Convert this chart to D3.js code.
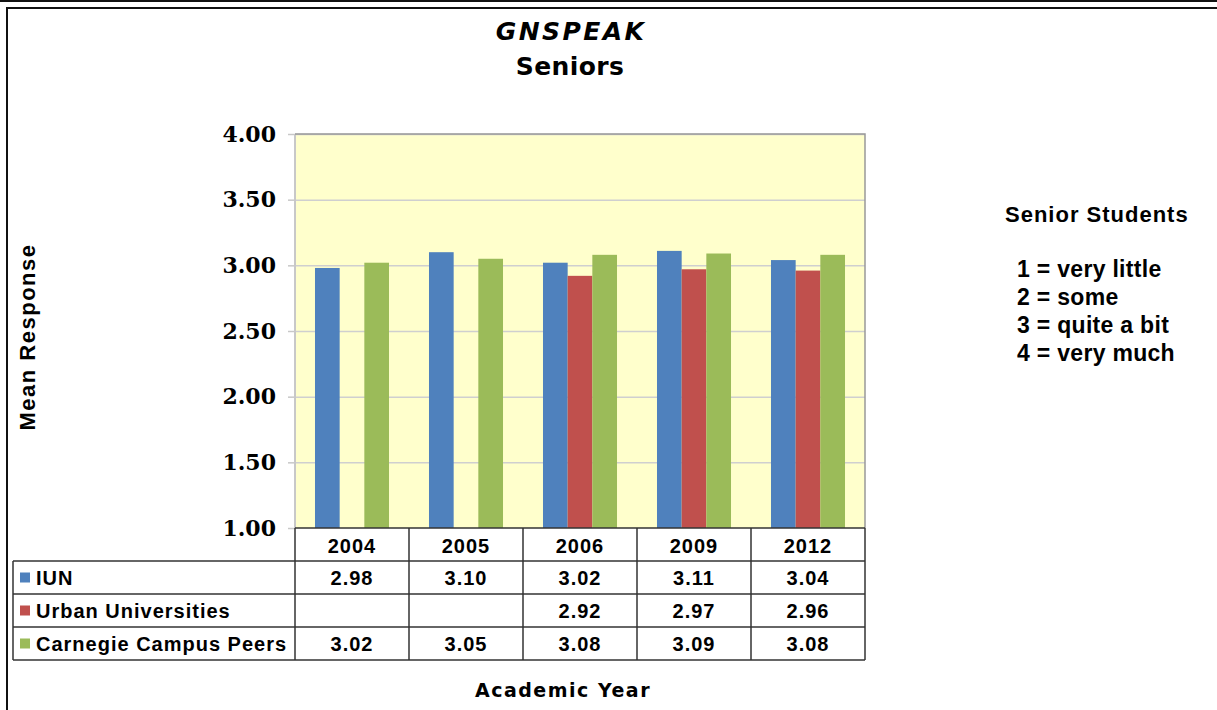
<!DOCTYPE html>
<html>
<head>
<meta charset="utf-8">
<script src="https://cdn.jsdelivr.net/npm/d3@7"></script>
<style>
  body { margin: 0; background: #fff; }
  svg { display: block; }
  .tbl text { font-family: "Liberation Sans", Arial, sans-serif; font-weight: bold; font-size: 20px; letter-spacing: 1px; fill: #000; }
</style>
</head>
<body>
<svg id="chart" width="1217" height="710"></svg>
<script>
// Chart data
const years = ["2004", "2005", "2006", "2009", "2012"];
const seriesNames = ["IUN", "Urban Universities", "Carnegie Campus Peers"];
const iun = [2.98, 3.10, 3.02, 3.11, 3.04];
const urban = [null, null, 2.92, 2.97, 2.96];
const carnegie = [3.02, 3.05, 3.08, 3.09, 3.08];
const yTicks = [1.00, 1.50, 2.00, 2.50, 3.00, 3.50, 4.00];
const scaleNotes = ["1 = very little", "2 = some", "3 = quite a bit", "4 = very much"];

const colors = ["#4F81BD", "#C0504D", "#9BBB59"];
const values = [iun, urban, carnegie];

// Layout
const plot = { left: 295, right: 865, top: 134, bottom: 528 };
const rowH = 33;
const tableLeft = 13;

const svg = d3.select("#chart");

// Outer frame
svg.append("line").attr("x1", 0).attr("x2", 1217).attr("y1", 1).attr("y2", 1)
  .attr("stroke", "#111").attr("stroke-width", 2);
svg.append("line").attr("x1", 6).attr("x2", 1217).attr("y1", 8).attr("y2", 8)
  .attr("stroke", "#111").attr("stroke-width", 2);
svg.append("line").attr("x1", 7).attr("x2", 7).attr("y1", 7).attr("y2", 710)
  .attr("stroke", "#111").attr("stroke-width", 2);

// Scales
const x0 = d3.scaleBand().domain(years).range([plot.left, plot.right]);
const x1 = d3.scaleBand().domain(seriesNames).range([0, x0.bandwidth()]).paddingOuter(0.81);
const y = d3.scaleLinear().domain([1, 4]).range([plot.bottom, plot.top]);

// Plot background
svg.append("rect")
  .attr("x", plot.left).attr("y", plot.top)
  .attr("width", plot.right - plot.left).attr("height", plot.bottom - plot.top)
  .attr("fill", "#FFFFCC");

// Gridlines
const grid = svg.append("g")
  .attr("transform", `translate(${plot.left},0)`)
  .call(d3.axisLeft(y).tickValues(yTicks.slice(1)).tickSize(-(plot.right - plot.left)).tickFormat(""));
grid.select(".domain").remove();
grid.selectAll("line").attr("stroke", "#CFCFCF").attr("stroke-width", 1.5);

// Y axis
const yAxis = svg.append("g")
  .attr("transform", `translate(${plot.left},0)`)
  .call(d3.axisLeft(y).tickValues(yTicks).tickFormat(d3.format(".2f")).tickSize(7).tickPadding(12));
yAxis.select(".domain").remove();
yAxis.selectAll("line").attr("stroke", "#C8C8C8").attr("stroke-width", 1.5);
yAxis.selectAll("text")
  .attr("font-family", "'DejaVu Serif', serif")
  .attr("font-weight", "bold")
  .attr("font-size", 22)
  .attr("fill", "#000");

// Plot border
svg.append("line").attr("x1", plot.left).attr("x2", plot.left).attr("y1", plot.top).attr("y2", plot.bottom)
  .attr("stroke", "#C8C8C8").attr("stroke-width", 2);
svg.append("path")
  .attr("d", `M${plot.left},${plot.top}H${plot.right}V${plot.bottom}`)
  .attr("fill", "none").attr("stroke", "#999").attr("stroke-width", 1.5);

// Bars
const barData = [];
years.forEach((yr, i) => {
  seriesNames.forEach((s, j) => {
    if (values[j][i] != null) barData.push({ year: yr, series: s, value: values[j][i], color: colors[j] });
  });
});
svg.append("g").selectAll("rect")
  .data(barData)
  .enter()
  .append("rect")
    .attr("x", d => x0(d.year) + x1(d.series))
    .attr("y", d => y(d.value))
    .attr("width", x1.bandwidth())
    .attr("height", d => y(1) - y(d.value))
    .attr("fill", d => d.color);

// Data table
const tbl = svg.append("g").attr("class", "tbl");
const lineColor = "#333";
const tableBottom = plot.bottom + rowH * 4;

// horizontal lines
tbl.append("line").attr("x1", plot.left).attr("x2", plot.right).attr("y1", plot.bottom).attr("y2", plot.bottom)
  .attr("stroke", lineColor).attr("stroke-width", 1.5);
for (let r = 1; r <= 4; r++) {
  tbl.append("line").attr("x1", tableLeft).attr("x2", plot.right)
    .attr("y1", plot.bottom + rowH * r).attr("y2", plot.bottom + rowH * r)
    .attr("stroke", lineColor).attr("stroke-width", 1.5);
}
// vertical lines
tbl.append("line").attr("x1", tableLeft).attr("x2", tableLeft)
  .attr("y1", plot.bottom + rowH).attr("y2", tableBottom)
  .attr("stroke", lineColor).attr("stroke-width", 1.5);
years.forEach(yr => {
  tbl.append("line").attr("x1", x0(yr)).attr("x2", x0(yr))
    .attr("y1", plot.bottom).attr("y2", tableBottom)
    .attr("stroke", lineColor).attr("stroke-width", 1.5);
});
tbl.append("line").attr("x1", plot.right).attr("x2", plot.right)
  .attr("y1", plot.bottom).attr("y2", tableBottom)
  .attr("stroke", lineColor).attr("stroke-width", 1.5);

// header row: years
tbl.selectAll(".yr")
  .data(years)
  .enter()
  .append("text")
    .attr("x", d => x0(d) + x0.bandwidth() / 2)
    .attr("y", plot.bottom + rowH / 2 + 8)
    .attr("text-anchor", "middle")
    .text(d => d);

// series rows
seriesNames.forEach((s, j) => {
  const rowTop = plot.bottom + rowH * (j + 1);
  tbl.append("rect")
    .attr("x", 20).attr("y", rowTop + rowH / 2 - 5)
    .attr("width", 10).attr("height", 10)
    .attr("fill", colors[j]);
  tbl.append("text")
    .attr("x", 36).attr("y", rowTop + rowH / 2 + 7)
    .text(s);
  years.forEach((yr, i) => {
    if (values[j][i] == null) return;
    tbl.append("text")
      .attr("x", x0(yr) + x0.bandwidth() / 2)
      .attr("y", rowTop + rowH / 2 + 7)
      .attr("text-anchor", "middle")
      .text(d3.format(".2f")(values[j][i]));
  });
});

// Titles
svg.append("text")
  .attr("x", 571).attr("y", 40)
  .attr("text-anchor", "middle")
  .attr("font-family", "'DejaVu Sans', Verdana, sans-serif")
  .attr("font-weight", "bold").attr("font-style", "italic")
  .attr("font-size", 25).attr("letter-spacing", 2.4)
  .text("GNSPEAK");
svg.append("text")
  .attr("x", 570).attr("y", 75)
  .attr("text-anchor", "middle")
  .attr("font-family", "'DejaVu Sans', Verdana, sans-serif")
  .attr("font-weight", "bold")
  .attr("font-size", 25).attr("letter-spacing", 0.4)
  .text("Seniors");

// Axis titles
svg.append("text")
  .attr("transform", "translate(35,337) rotate(-90)")
  .attr("text-anchor", "middle")
  .attr("font-family", "'Liberation Sans', Arial, sans-serif")
  .attr("font-weight", "bold")
  .attr("font-size", 22).attr("letter-spacing", 1.5)
  .text("Mean Response");
svg.append("text")
  .attr("x", 563).attr("y", 697)
  .attr("text-anchor", "middle")
  .attr("font-family", "'DejaVu Sans', Verdana, sans-serif")
  .attr("font-weight", "bold")
  .attr("font-size", 19).attr("letter-spacing", 1.5)
  .text("Academic Year");

// Scale notes on the right
svg.append("text")
  .attr("x", 1005).attr("y", 222)
  .attr("font-family", "'Liberation Sans', Arial, sans-serif")
  .attr("font-weight", "bold")
  .attr("font-size", 22).attr("letter-spacing", 1)
  .text("Senior Students");
svg.append("g").selectAll("text")
  .data(scaleNotes)
  .enter()
  .append("text")
    .attr("x", 1017)
    .attr("y", (d, i) => 277 + i * 28)
    .attr("font-family", "'Liberation Sans', Arial, sans-serif")
    .attr("font-weight", "bold")
    .attr("font-size", 23).attr("letter-spacing", 0.3)
    .text(d => d);
</script>
</body>
</html>
